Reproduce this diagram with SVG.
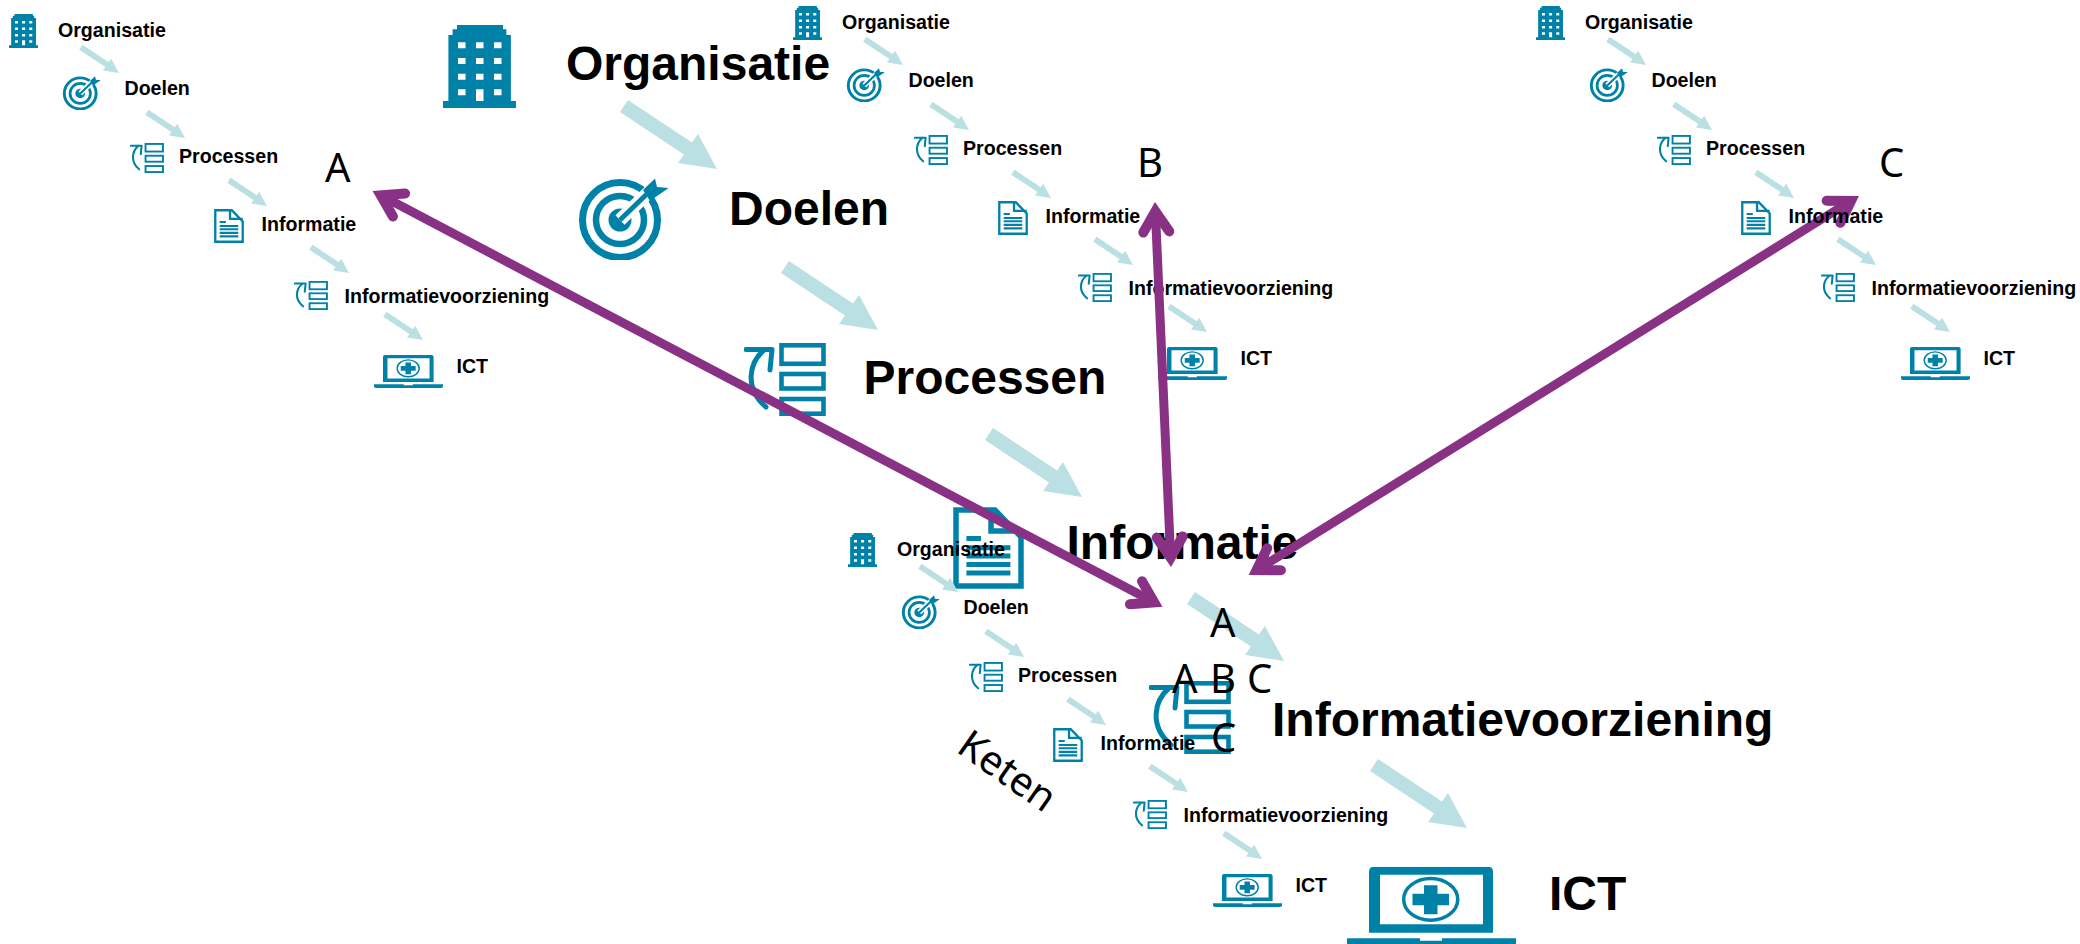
<svg xmlns="http://www.w3.org/2000/svg" xmlns:xlink="http://www.w3.org/1999/xlink" width="2080" height="944" viewBox="0 0 2080 944">
<style>
text{fill:#000}
.s{font:bold 19.6px "Liberation Sans",Arial,sans-serif}
.b{font:bold 48px "Liberation Sans",Arial,sans-serif}
.l{font:40px "Noto Sans","Open Sans",sans-serif}
.t{fill:#0082a8}
.o{fill:none;stroke:#0082a8}
.a{fill:#bbe0e3}
.p{fill:none;stroke:#893285;stroke-width:9}
</style>
<defs>
<symbol id="i-building" viewBox="0 0 73 83" preserveAspectRatio="none">
<path class="t" fill-rule="evenodd" d="M14,0H60V4.300H63.400V10H67.900V76H73V83H0V76H5.400V10H9.600V4.300H14ZM15,17.300V23.300H22.500V17.300ZM33,17.300V23.300H40.500V17.300ZM51,17.300V23.300H58.500V17.300ZM15,33V39H22.500V33ZM33,33V39H40.500V33ZM51,33V39H58.500V33ZM15,48.700V54.700H22.500V48.700ZM33,48.700V54.700H40.500V48.700ZM51,48.700V54.700H58.500V48.700ZM15,64.300V70.300H22.500V64.300ZM33,64.300V76H40.500V64.300ZM51,64.300V70.300H58.500V64.300Z"/>
</symbol>
<symbol id="i-target" viewBox="0 0 92 82" preserveAspectRatio="none">
<circle class="o" cx="43" cy="42" r="37.500" stroke-width="7"/>
<circle class="o" cx="43" cy="42" r="24" stroke-width="6.500"/>
<circle class="t" cx="43" cy="42" r="11.500"/>
<path d="M43,42L74,12" stroke="#fff" stroke-width="13" fill="none"/>
<path d="M43,42L74,12" stroke="#0082a8" stroke-width="5" fill="none"/>
<path class="t" d="M66,12L78,0.500L80,9L91.500,10L73,23Z"/>
</symbol>
<symbol id="i-process" viewBox="0 0 82 73" preserveAspectRatio="none">
<g class="o" stroke-width="4.600"><rect x="37.500" y="2.300" width="42" height="18.500"/><rect x="37.500" y="31" width="42" height="14.500"/><rect x="37.500" y="56" width="42" height="14.700"/></g>
<path class="o" stroke-width="5" stroke-linecap="round" d="M20,7C5,20 0,45 22,64"/>
<path class="o" stroke-width="5" stroke-linecap="round" stroke-linejoin="round" d="M2,6.500H28L26,27"/>
</symbol>
<symbol id="i-doc" viewBox="0 0 71 82" preserveAspectRatio="none">
<path class="o" stroke-width="5.500" d="M3,3H42L68,30V79H3ZM38,3V24H68"/>
<path class="t" d="M13.400,29H28V34H13.400ZM13.400,38.300H57.400V43.300H13.400ZM13.400,46.500H57.400V51.500H13.400ZM13.400,55H57.400V60H13.400ZM13.400,63.500H57.400V68.500H13.400Z"/>
</symbol>
<symbol id="i-laptop" viewBox="0 0 169 81" preserveAspectRatio="none">
<path class="t" fill-rule="evenodd" d="M27,0H141Q146,0 146,5V66H22V5Q22,0 27,0ZM33,8V57.500H136V8Z"/>
<ellipse class="o" cx="83.700" cy="32.700" rx="27" ry="20.800" stroke-width="3.500"/>
<path class="t" d="M77,18.500H90.500V27H102V38.500H90.500V47.500H77V38.500H65.500V27H77Z"/>
<path class="t" d="M0,71.500H73V74H95V71.500H169V76Q169,81 164,81H5Q0,81 0,76Z"/>
</symbol>
<path id="arrow" class="a" d="M0,0L-39,-6L-33,-14.500L-97,-57L-89,-69L-25,-26.500L-19,-35Z"/>
<marker id="head" markerUnits="userSpaceOnUse" markerWidth="60" markerHeight="50" viewBox="-50 -25 60 50" refX="-12" refY="0" orient="auto-start-reverse" overflow="visible">
<path d="M-30,-13L-9.400,0L-30,13" fill="none" stroke="#893285" stroke-width="10" stroke-linecap="round"/>
</marker>
</defs>
<rect width="2080" height="944" fill="#fff"/>

<g id="main-stack">
<g id="m-organisatie"><use href="#i-building" x="443" y="25" width="73" height="83"/><text class="b" x="566" y="80">Organisatie</text></g>
<g id="m-doelen"><use href="#i-target" x="577" y="178" width="92" height="82"/><text class="b" x="729" y="225">Doelen</text></g>
<g id="m-processen"><use href="#i-process" x="744" y="343" width="82" height="73"/><text class="b" x="863.500" y="393.500">Processen</text></g>
<g id="m-informatie"><use href="#i-doc" x="953" y="507" width="71" height="82"/><text class="b" x="1066.500" y="559">Informatie</text></g>
<g id="m-informatievoorziening"><use href="#i-process" x="1149" y="681" width="82" height="73"/><text class="b" x="1272" y="736">Informatievoorziening</text></g>
<g id="m-ict"><use href="#i-laptop" x="1347" y="866.700" width="169" height="81"/><text class="b" x="1549" y="910">ICT</text></g>
</g>

<g id="stack-a">
<g id="a-organisatie"><use href="#i-building" x="9" y="14" width="29" height="34"/><text class="s" x="58" y="37">Organisatie</text></g>
<g id="a-doelen"><use href="#i-target" x="62" y="76" width="39" height="34"/><text class="s" x="124.500" y="95">Doelen</text></g>
<g id="a-processen"><use href="#i-process" x="130" y="143" width="34" height="30"/><text class="s" x="179" y="163">Processen</text></g>
<g id="a-informatie"><use href="#i-doc" x="214" y="209" width="30" height="34"/><text class="s" x="261.500" y="231">Informatie</text></g>
<g id="a-informatievoorziening"><use href="#i-process" x="294" y="281" width="34" height="29"/><text class="s" x="344.500" y="303">Informatievoorziening</text></g>
<g id="a-ict"><use href="#i-laptop" x="374" y="355" width="69" height="33"/><text class="s" x="456.500" y="373">ICT</text></g>
</g>

<g id="stack-b" transform="translate(784,-8)">
<g id="b-organisatie"><use href="#i-building" x="9" y="14" width="29" height="34"/><text class="s" x="58" y="37">Organisatie</text></g>
<g id="b-doelen"><use href="#i-target" x="62" y="76" width="39" height="34"/><text class="s" x="124.500" y="95">Doelen</text></g>
<g id="b-processen"><use href="#i-process" x="130" y="143" width="34" height="30"/><text class="s" x="179" y="163">Processen</text></g>
<g id="b-informatie"><use href="#i-doc" x="214" y="209" width="30" height="34"/><text class="s" x="261.500" y="231">Informatie</text></g>
<g id="b-informatievoorziening"><use href="#i-process" x="294" y="281" width="34" height="29"/><text class="s" x="344.500" y="303">Informatievoorziening</text></g>
<g id="b-ict"><use href="#i-laptop" x="374" y="355" width="69" height="33"/><text class="s" x="456.500" y="373">ICT</text></g>
</g>

<g id="stack-d" transform="translate(839,519)">
<g id="d-organisatie"><use href="#i-building" x="9" y="14" width="29" height="34"/><text class="s" x="58" y="37">Organisatie</text></g>
<g id="d-doelen"><use href="#i-target" x="62" y="76" width="39" height="34"/><text class="s" x="124.500" y="95">Doelen</text></g>
<g id="d-processen"><use href="#i-process" x="130" y="143" width="34" height="30"/><text class="s" x="179" y="163">Processen</text></g>
<g id="d-informatie"><use href="#i-doc" x="214" y="209" width="30" height="34"/><text class="s" x="261.500" y="231">Informatie</text></g>
<g id="d-informatievoorziening"><use href="#i-process" x="294" y="281" width="34" height="29"/><text class="s" x="344.500" y="303">Informatievoorziening</text></g>
<g id="d-ict"><use href="#i-laptop" x="374" y="355" width="69" height="33"/><text class="s" x="456.500" y="373">ICT</text></g>
</g>

<g id="connectors">
<g id="main-arrows">
<use href="#arrow" transform="translate(717,169)"/>
<use href="#arrow" transform="translate(878,330)"/>
<use href="#arrow" transform="translate(1082,497)"/>
<use href="#arrow" transform="translate(1284,661)"/>
<use href="#arrow" transform="translate(1467,828)"/>
</g>
<g id="small-arrows-a">
<use href="#arrow" transform="translate(119,73) scale(.41)"/>
<use href="#arrow" transform="translate(185,138) scale(.41)"/>
<use href="#arrow" transform="translate(267,206) scale(.41)"/>
<use href="#arrow" transform="translate(349,273) scale(.41)"/>
<use href="#arrow" transform="translate(423,340) scale(.41)"/>
</g>
<g id="small-arrows-b" transform="translate(784,-8)">
<use href="#arrow" transform="translate(119,73) scale(.41)"/>
<use href="#arrow" transform="translate(185,138) scale(.41)"/>
<use href="#arrow" transform="translate(267,206) scale(.41)"/>
<use href="#arrow" transform="translate(349,273) scale(.41)"/>
<use href="#arrow" transform="translate(423,340) scale(.41)"/>
</g>
<g id="small-arrows-c" transform="translate(1527,-8)">
<use href="#arrow" transform="translate(119,73) scale(.41)"/>
<use href="#arrow" transform="translate(185,138) scale(.41)"/>
<use href="#arrow" transform="translate(267,206) scale(.41)"/>
<use href="#arrow" transform="translate(349,273) scale(.41)"/>
<use href="#arrow" transform="translate(423,340) scale(.41)"/>
</g>
<g id="small-arrows-d" transform="translate(839,519)">
<use href="#arrow" transform="translate(119,73) scale(.41)"/>
<use href="#arrow" transform="translate(185,138) scale(.41)"/>
<use href="#arrow" transform="translate(267,206) scale(.41)"/>
<use href="#arrow" transform="translate(349,273) scale(.41)"/>
<use href="#arrow" transform="translate(423,340) scale(.41)"/>
</g>
<g id="purple-arrows">
<line class="p" x1="383.100" y1="196.600" x2="1151.900" y2="601.100" marker-start="url(#head)" marker-end="url(#head)"/>
<line class="p" x1="1155.500" y1="214" x2="1170.500" y2="555" marker-start="url(#head)" marker-end="url(#head)"/>
<line class="p" x1="1848.800" y1="202.300" x2="1258.800" y2="568.700" marker-start="url(#head)" marker-end="url(#head)"/>
</g>
</g>

<g id="stack-c" transform="translate(1527,-8)">
<g id="c-organisatie"><use href="#i-building" x="9" y="14" width="29" height="34"/><text class="s" x="58" y="37">Organisatie</text></g>
<g id="c-doelen"><use href="#i-target" x="62" y="76" width="39" height="34"/><text class="s" x="124.500" y="95">Doelen</text></g>
<g id="c-processen"><use href="#i-process" x="130" y="143" width="34" height="30"/><text class="s" x="179" y="163">Processen</text></g>
<g id="c-informatie"><use href="#i-doc" x="214" y="209" width="30" height="34"/><text class="s" x="261.500" y="231">Informatie</text></g>
<g id="c-informatievoorziening"><use href="#i-process" x="294" y="281" width="34" height="29"/><text class="s" x="344.500" y="303">Informatievoorziening</text></g>
<g id="c-ict"><use href="#i-laptop" x="374" y="355" width="69" height="33"/><text class="s" x="456.500" y="373">ICT</text></g>
</g>

<g id="labels">
<text class="l" x="325" y="182">A</text>
<text class="l" x="1137" y="177">B</text>
<text class="l" x="1879" y="177">C</text>
<text class="l" x="1210" y="637">A</text>
<text class="l" x="1172" y="693">A</text>
<text class="l" x="1210" y="693">B</text>
<text class="l" x="1247" y="693">C</text>
<text class="l" x="1211" y="752">C</text>
<text class="l" transform="translate(955,751) rotate(35)">Keten</text>
</g>
</svg>
